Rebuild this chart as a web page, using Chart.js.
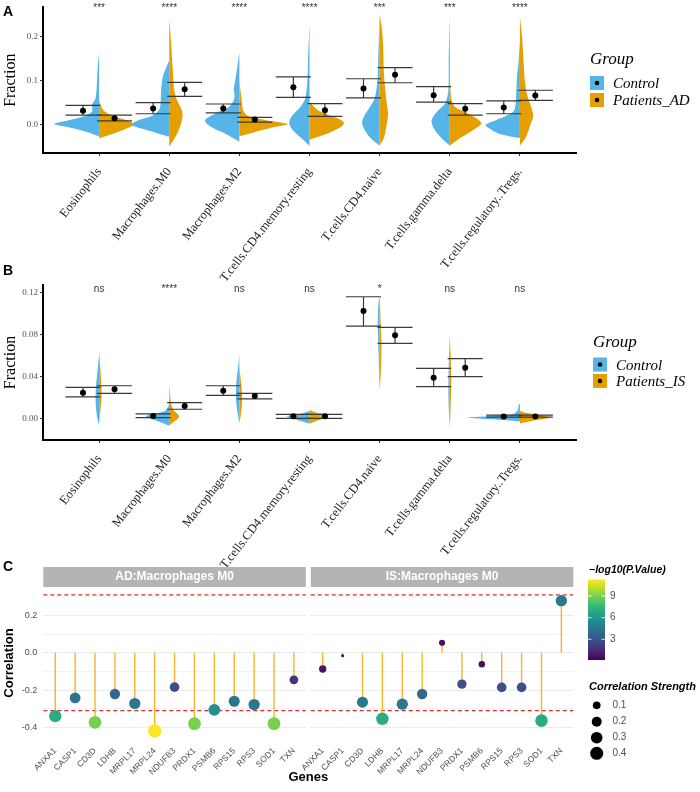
<!DOCTYPE html>
<html>
<head>
<meta charset="utf-8">
<script src="https://cdn.jsdelivr.net/npm/chart.js@4.4.1/dist/chart.umd.min.js"></script>
<style>
  body { margin: 0; background: #fff; }
  #page { position: relative; width: 700px; height: 792px; overflow: hidden; }
  canvas { position: absolute; left: 0; }
  .tag { position: absolute; left: 3px; font: bold 14px 'Liberation Sans', Arial, sans-serif; color: #000; }
</style>
</head>
<body>
<div id="page">
  <canvas id="chartA" width="700" height="300" style="top:0"></canvas>
  <canvas id="chartB" width="700" height="330" style="top:260px"></canvas>
  <canvas id="chartC" width="700" height="237" style="top:555px"></canvas>
  <div class="tag" style="top:3px">A</div>
  <div class="tag" style="top:262px">B</div>
  <div class="tag" style="top:558px">C</div>
</div>
<script>
// ---------- Panels A and B: cell fractions ----------
const cellTypes = ['Eosinophils', 'Macrophages.M0', 'Macrophages.M2', 'T.cells.CD4.memory.resting',
  'T.cells.CD4.naive', 'T.cells.gamma.delta', 'T.cells.regulatory..Tregs.'];
const sigAD = ['***', '****', '****', '****', '***', '***', '****'];
const sigIS = ['ns', '****', 'ns', 'ns', '*', 'ns', 'ns'];

// mean +/- error limits (panel A, Control vs Patients_AD)
const adCtrlMean = [0.032, 0.037, 0.037, 0.085, 0.082, 0.067, 0.039];
const adCtrlLow  = [0.022, 0.025, 0.027, 0.062, 0.061, 0.051, 0.025];
const adCtrlHigh = [0.044, 0.050, 0.047, 0.108, 0.104, 0.086, 0.054];
const adCaseMean = [0.015, 0.080, 0.012, 0.033, 0.113, 0.036, 0.066];
const adCaseLow  = [0.009, 0.064, 0.006, 0.019, 0.095, 0.022, 0.055];
const adCaseHigh = [0.022, 0.096, 0.017, 0.048, 0.129, 0.048, 0.078];

// panel B, Control vs Patients_IS
const isCtrlMean = [0.0244, 0.0022, 0.0263, 0.0019, 0.1022, 0.0387, 0.0016];
const isCtrlLow  = [0.0203, 0.0006, 0.0219, 0.0000, 0.0879, 0.0301, 0.0011];
const isCtrlHigh = [0.0295, 0.0041, 0.0310, 0.0038, 0.1158, 0.0476, 0.0030];
const isCaseMean = [0.0276, 0.0117, 0.0212, 0.0019, 0.0790, 0.0482, 0.0016];
const isCaseLow  = [0.0238, 0.0086, 0.0184, 0.0000, 0.0714, 0.0396, 0.0011];
const isCaseHigh = [0.0310, 0.0149, 0.0238, 0.0038, 0.0867, 0.0568, 0.0030];

// half-violin density profiles: [fraction, half width]
const adCtrlViolin = [
  [[-0.026,0],[-0.015,0.2],[-0.005,0.45],[0.002,0.64],[0.01,0.45],[0.02,0.2],[0.03,0.1],[0.045,0.1],[0.06,0.05],[0.1,0.03],[0.13,0.02],[0.164,0]],
  [[-0.027,0],[-0.015,0.25],[0,0.54],[0.01,0.45],[0.02,0.25],[0.035,0.14],[0.06,0.12],[0.09,0.11],[0.115,0.08],[0.13,0.04],[0.145,0]],
  [[-0.038,0],[-0.02,0.2],[-0.005,0.4],[0.01,0.49],[0.025,0.35],[0.04,0.15],[0.06,0.07],[0.08,0.08],[0.1,0.06],[0.13,0.03],[0.163,0]],
  [[-0.047,0],[-0.03,0.12],[-0.01,0.25],[0.005,0.29],[0.02,0.25],[0.04,0.13],[0.06,0.06],[0.1,0.03],[0.15,0.02],[0.226,0]],
  [[-0.047,0],[-0.03,0.13],[-0.01,0.22],[0.005,0.25],[0.02,0.22],[0.04,0.14],[0.06,0.07],[0.1,0.03],[0.15,0.02],[0.246,0]],
  [[-0.047,0],[-0.03,0.12],[-0.01,0.22],[0.01,0.26],[0.03,0.18],[0.05,0.06],[0.08,0.02],[0.15,0.015],[0.25,0]],
  [[-0.03,0],[-0.02,0.3],[-0.008,0.44],[0,0.49],[0.01,0.35],[0.02,0.2],[0.03,0.09],[0.05,0.06],[0.08,0.05],[0.11,0.04],[0.14,0.02],[0.189,0]]
];
const adCaseViolin = [
  [[-0.03,0],[-0.02,0.2],[-0.008,0.4],[0.002,0.5],[0.01,0.4],[0.02,0.2],[0.03,0.08],[0.045,0.02],[0.058,0]],
  [[-0.049,0],[-0.03,0.08],[-0.01,0.14],[0.01,0.18],[0.025,0.19],[0.04,0.16],[0.06,0.1],[0.08,0.07],[0.1,0.06],[0.15,0.04],[0.2,0.02],[0.24,0]],
  [[-0.026,0],[-0.015,0.25],[-0.005,0.5],[0.002,0.69],[0.01,0.4],[0.018,0.15],[0.03,0.06],[0.06,0.03],[0.1,0]],
  [[-0.033,0],[-0.02,0.25],[-0.005,0.45],[0.005,0.49],[0.015,0.4],[0.03,0.15],[0.045,0.04],[0.052,0]],
  [[-0.047,0],[-0.03,0.06],[0,0.1],[0.025,0.12],[0.05,0.1],[0.08,0.08],[0.12,0.06],[0.18,0.05],[0.22,0.03],[0.25,0]],
  [[-0.047,0],[-0.03,0.15],[-0.01,0.35],[0.003,0.45],[0.015,0.38],[0.03,0.2],[0.045,0.05],[0.08,0.01],[0.2,0]],
  [[-0.047,0],[-0.03,0.08],[0,0.15],[0.02,0.19],[0.04,0.16],[0.07,0.1],[0.1,0.07],[0.15,0.05],[0.2,0.03],[0.244,0]]
];
const isCtrlViolin = [
  [[-0.007,0],[0,0.025],[0.01,0.045],[0.02,0.05],[0.03,0.045],[0.04,0.03],[0.05,0.015],[0.06,0]],
  [[-0.007,0],[-0.003,0.15],[0,0.28],[0.002,0.33],[0.004,0.22],[0.007,0.06],[0.012,0.01],[0.018,0]],
  [[-0.005,0],[0.003,0.02],[0.012,0.04],[0.022,0.05],[0.032,0.045],[0.042,0.03],[0.052,0.012],[0.06,0]],
  [[-0.005,0],[-0.002,0.15],[0.001,0.3],[0.002,0.32],[0.004,0.15],[0.007,0]],
  [[0.027,0],[0.04,0.008],[0.06,0.015],[0.08,0.025],[0.1,0.025],[0.11,0.015],[0.117,0]],
  [[-0.009,0],[0.01,0.015],[0.03,0.02],[0.05,0.015],[0.065,0.008],[0.079,0]],
  [[-0.003,0],[-0.001,0.4],[0.0006,0.74],[0.002,0.45],[0.004,0.1],[0.008,0.03],[0.012,0.02],[0.014,0]]
];
const isCaseViolin = [
  [[-0.005,0],[0.005,0.015],[0.015,0.03],[0.025,0.035],[0.035,0.03],[0.045,0.02],[0.055,0.01],[0.065,0]],
  [[-0.007,0],[-0.003,0.07],[0.001,0.14],[0.004,0.12],[0.008,0.06],[0.013,0.03],[0.02,0.015],[0.033,0]],
  [[-0.005,0],[0.003,0.02],[0.012,0.035],[0.02,0.04],[0.03,0.03],[0.04,0.015],[0.048,0]],
  [[-0.005,0],[-0.002,0.12],[0.001,0.25],[0.003,0.27],[0.005,0.12],[0.008,0]],
  [[0.027,0],[0.04,0.015],[0.06,0.025],[0.075,0.025],[0.09,0.015],[0.105,0.008],[0.117,0]],
  [[-0.009,0],[0.01,0.012],[0.03,0.02],[0.05,0.018],[0.065,0.01],[0.079,0]],
  [[-0.005,0],[-0.002,0.2],[0.0005,0.43],[0.003,0.3],[0.005,0.1],[0.007,0]]
];

// ---------- Panel C: gene correlations ----------
const genes = ['ANXA1', 'CASP1', 'CD3D', 'LDHB', 'MRPL17', 'MRPL24', 'NDUFB3', 'PRDX1', 'PSMB6', 'RPS15', 'RPS3', 'SOD1', 'TXN'];
const facetLabels = ['AD:Macrophages M0', 'IS:Macrophages M0'];
const adCorr = [-0.340, -0.242, -0.373, -0.221, -0.272, -0.419, -0.184, -0.380, -0.306, -0.260, -0.278, -0.380, -0.145];
const adLogP = [7.0, 4.4, 9.0, 3.8, 4.6, 11.3, 2.9, 9.0, 5.7, 4.5, 4.5, 9.0, 1.8];
const isCorr = [-0.087, -0.016, -0.265, -0.354, -0.276, -0.221, 0.053, -0.168, -0.062, -0.186, -0.186, -0.364, 0.279];
const isLogP = [0.7, 0.13, 4.6, 7.0, 4.6, 3.8, 0.7, 2.9, 0.6, 2.9, 2.9, 7.0, 4.6];
const corrCutoff = 0.31;
const colorbarTicks = [3, 6, 9];
const sizeLegendValues = [0.1, 0.2, 0.3, 0.4];

const BLUE = '#56B4E9', ORANGE = '#E69F00';
const SERIF = "'Liberation Serif', 'Times New Roman', serif";
const SANS = "'Liberation Sans', Arial, sans-serif";
Chart.defaults.font.family = SANS;

// build one half violin as a closed shape
function halfViolin(pts, center, side, color) {
  return {
    data: pts.map(([y, w]) => ({ x: center + side * w, y })),
    backgroundColor: color, borderColor: color, borderWidth: 0,
    fill: 'shape', tension: 0.3, pointRadius: 0, order: 3
  };
}

function errorBars(lows, highs, offset) {
  const d = [];
  lows.forEach((lo, i) => {
    const c = i + 1 + offset, hi = highs[i];
    d.push({ x: c - 0.25, y: hi }, { x: c + 0.25, y: hi }, { x: c, y: null },
           { x: c - 0.25, y: lo }, { x: c + 0.25, y: lo }, { x: c, y: null },
           { x: c, y: hi }, { x: c, y: lo }, { x: c, y: null });
  });
  return { data: d, borderColor: '#3a3a3a', borderWidth: 1.2, pointRadius: 0, fill: false, order: 1 };
}

function meanPoints(means, offset) {
  return {
    data: means.map((m, i) => ({ x: i + 1 + offset, y: m })),
    showLine: false, pointRadius: 3, pointBackgroundColor: '#000', pointBorderWidth: 0, order: 0
  };
}

// significance labels + group legend
const panelDecor = {
  id: 'panelDecor',
  afterDraw(chart, args, opts) {
    const { ctx, chartArea, scales } = chart;
    ctx.save();
    ctx.font = '10px ' + SANS;
    ctx.fillStyle = '#333';
    ctx.textAlign = 'center';
    ctx.textBaseline = 'alphabetic';
    opts.sig.forEach((s, i) => ctx.fillText(s, scales.x.getPixelForValue(i + 1), chartArea.top + opts.sigOffset));

    const lg = opts.legend;
    ctx.textAlign = 'left';
    ctx.fillStyle = '#000';
    ctx.font = 'italic 17px ' + SERIF;
    ctx.fillText('Group', lg.x, lg.titleBase);
    ctx.font = 'italic 15px ' + SERIF;
    lg.rows.forEach(r => {
      ctx.fillStyle = r.color;
      ctx.fillRect(lg.x, r.top, 14, 14);
      ctx.fillStyle = '#000';
      ctx.beginPath();
      ctx.arc(lg.x + 7, r.top + 7, 2.3, 0, Math.PI * 2);
      ctx.fill();
      ctx.fillText(r.label, lg.x + 23, r.top + 12);
    });
    ctx.restore();
  }
};

function violinPanel(id, cfg) {
  const datasets = [
    meanPoints(cfg.ctrlMean, -0.23), meanPoints(cfg.caseMean, 0.22),
    errorBars(cfg.ctrlLow, cfg.ctrlHigh, -0.23), errorBars(cfg.caseLow, cfg.caseHigh, 0.22)
  ];
  cfg.ctrlViolin.forEach((p, i) => datasets.push(halfViolin(p, i + 1, -1, BLUE)));
  cfg.caseViolin.forEach((p, i) => datasets.push(halfViolin(p, i + 1, 1, ORANGE)));

  return new Chart(document.getElementById(id), {
    type: 'line',
    data: { datasets },
    plugins: [panelDecor],
    options: {
      responsive: false, animation: false, events: [],
      layout: { padding: { top: cfg.padTop, right: 124, left: 0, bottom: 0 } },
      plugins: {
        legend: { display: false }, tooltip: { enabled: false },
        panelDecor: { sig: cfg.sig, sigOffset: cfg.sigOffset, legend: cfg.legend }
      },
      scales: {
        x: {
          type: 'linear', min: 0.2, max: 7.8,
          afterBuildTicks: s => { s.ticks = cellTypes.map((_, i) => ({ value: i + 1 })); },
          afterFit: s => { s.height = cfg.xHeight; },
          ticks: {
            autoSkip: false, minRotation: 52, maxRotation: 52, padding: 9,
            color: '#1a1a1a', font: { family: SERIF, size: 12.5 },
            callback: (v, i) => cellTypes[i]
          },
          grid: { drawOnChartArea: false, drawTicks: true, tickLength: 3, color: '#333' },
          border: { display: true, color: '#000', width: 2 }
        },
        y: {
          min: cfg.yMin, max: cfg.yMax,
          afterBuildTicks: s => { s.ticks = cfg.yTicks.map(v => ({ value: v })); },
          afterFit: s => { s.width = 43; },
          ticks: {
            padding: 2, color: '#555', font: { family: SERIF, size: 9 },
            callback: v => v.toFixed(cfg.yDigits)
          },
          grid: { drawOnChartArea: false, drawTicks: true, tickLength: 3, color: '#333' },
          border: { display: true, color: '#000', width: 2 },
          title: { display: true, text: 'Fraction', color: '#000', font: { family: SERIF, size: 16 }, padding: { top: 1 } }
        }
      }
    }
  });
}

violinPanel('chartA', {
  ctrlMean: adCtrlMean, ctrlLow: adCtrlLow, ctrlHigh: adCtrlHigh,
  caseMean: adCaseMean, caseLow: adCaseLow, caseHigh: adCaseHigh,
  ctrlViolin: adCtrlViolin, caseViolin: adCaseViolin, sig: sigAD, sigOffset: 4,
  yMin: -0.0636, yMax: 0.265, yTicks: [0, 0.1, 0.2], yDigits: 1,
  padTop: 3, xHeight: 147,
  legend: { x: 590, titleBase: 64, rows: [
    { label: 'Control', color: BLUE, top: 76 },
    { label: 'Patients_AD', color: ORANGE, top: 93 }
  ] }
});

violinPanel('chartB', {
  ctrlMean: isCtrlMean, ctrlLow: isCtrlLow, ctrlHigh: isCtrlHigh,
  caseMean: isCaseMean, caseLow: isCaseLow, caseHigh: isCaseHigh,
  ctrlViolin: isCtrlViolin, caseViolin: isCaseViolin, sig: sigIS, sigOffset: 7,
  yMin: -0.0207, yMax: 0.127, yTicks: [0, 0.04, 0.08, 0.12], yDigits: 2,
  padTop: 25, xHeight: 150,
  legend: { x: 593, titleBase: 86.5, rows: [
    { label: 'Control', color: BLUE, top: 97.5 },
    { label: 'Patients_IS', color: ORANGE, top: 114 }
  ] }
});

// ---------- Panel C ----------
const viridis = ['#440154', '#482878', '#3e4989', '#31688e', '#26828e', '#1f9e89', '#35b779', '#6ece58', '#b5de2b', '#fde725'];
const allLogP = adLogP.concat(isLogP);
const pMin = Math.min(...allLogP), pMax = Math.max(...allLogP);
const allAbs = adCorr.concat(isCorr).map(Math.abs);
const rMin = Math.min(...allAbs), rMax = Math.max(...allAbs);
const hex2rgb = h => [1, 3, 5].map(k => parseInt(h.slice(k, k + 2), 16));

function viridisAt(t) {
  t = Math.max(0, Math.min(1, t));
  const p = t * (viridis.length - 1);
  const i = Math.min(Math.floor(p), viridis.length - 2), f = p - i;
  const a = hex2rgb(viridis[i]), b = hex2rgb(viridis[i + 1]);
  return 'rgb(' + a.map((c, k) => Math.round(c + (b[k] - c) * f)).join(',') + ')';
}
const pColor = v => viridisAt((v - pMin) / (pMax - pMin));
const dotRadius = r => (3 + 10.3 * Math.sqrt(Math.max(0, Math.abs(r) - rMin) / (rMax - rMin))) / 2;

const FACET_SHIFT = 13.45;          // second facet starts after a small gap
const X_MIN = 0.4, X_MAX = 27.05, GAP = [13.6, 13.85];

function stems(corr, shift) {
  const d = [];
  corr.forEach((r, i) => d.push({ x: i + 1 + shift, y: 0 }, { x: i + 1 + shift, y: r }, { x: i + 1 + shift, y: null }));
  return { data: d, borderColor: '#F7B32B', borderWidth: 1.4, pointRadius: 0, order: 1 };
}
function dots(corr, logp, shift) {
  return {
    data: corr.map((r, i) => ({ x: i + 1 + shift, y: r })),
    showLine: false, pointRadius: corr.map(dotRadius), pointBorderWidth: 0,
    pointBackgroundColor: logp.map(pColor), order: 0
  };
}
function cutoffLine(v) {
  return {
    data: [{ x: X_MIN, y: v }, { x: GAP[0], y: v }, { x: 13.7, y: null }, { x: GAP[1], y: v }, { x: X_MAX, y: v }],
    borderColor: '#D0312D', borderWidth: 1.2, borderDash: [4, 3], pointRadius: 0, order: 2
  };
}

const facetDecor = {
  id: 'facetDecor',
  beforeDatasetsDraw(chart) {
    const { ctx, chartArea, scales } = chart;
    const x0 = scales.x.getPixelForValue(GAP[0]), x1 = scales.x.getPixelForValue(GAP[1]);
    ctx.save();
    ctx.fillStyle = '#fff';
    ctx.fillRect(x0, chartArea.top - 1, x1 - x0, chartArea.bottom - chartArea.top + 2);
    ctx.restore();
  },
  afterDraw(chart) {
    const { ctx, chartArea, scales } = chart;
    const xs = scales.x;
    ctx.save();
    // strips
    const ranges = [[X_MIN, GAP[0]], [GAP[1], X_MAX]];
    ctx.font = 'bold 12px ' + SANS;
    ctx.textAlign = 'center';
    ctx.textBaseline = 'middle';
    ranges.forEach(([a, b], k) => {
      const l = xs.getPixelForValue(a), r = xs.getPixelForValue(b);
      ctx.fillStyle = '#B4B4B4';
      ctx.fillRect(l, chartArea.top - 21, r - l, 20);
      ctx.fillStyle = '#fff';
      ctx.fillText(facetLabels[k], (l + r) / 2, chartArea.top - 11);
    });

    // colour bar legend
    const cbX = 588, cbTop = 24.5, cbBot = 105, cbW = 17;
    ctx.textAlign = 'left';
    ctx.fillStyle = '#000';
    ctx.font = 'bold italic 10.5px ' + SANS;
    ctx.fillText('\u2212log10(P.Value)', 589, 15);
    const grad = ctx.createLinearGradient(0, cbBot, 0, cbTop);
    viridis.forEach((c, i) => grad.addColorStop(i / (viridis.length - 1), c));
    ctx.fillStyle = grad;
    ctx.fillRect(cbX, cbTop, cbW, cbBot - cbTop);
    ctx.font = '10px ' + SANS;
    colorbarTicks.forEach(v => {
      const y = cbBot - (v - pMin) / (pMax - pMin) * (cbBot - cbTop);
      ctx.strokeStyle = 'rgba(255,255,255,0.8)';
      ctx.lineWidth = 1;
      ctx.beginPath();
      ctx.moveTo(cbX, y); ctx.lineTo(cbX + 3.5, y);
      ctx.moveTo(cbX + cbW - 3.5, y); ctx.lineTo(cbX + cbW, y);
      ctx.stroke();
      ctx.fillStyle = '#4d4d4d';
      ctx.fillText(String(v), 610, y);
    });

    // size legend
    ctx.fillStyle = '#000';
    ctx.font = 'bold italic 11px ' + SANS;
    ctx.fillText('Correlation Strength', 589, 131.5);
    const rowsY = [150.3, 166.7, 182.7, 198.3];
    ctx.font = '10px ' + SANS;
    sizeLegendValues.forEach((v, i) => {
      ctx.fillStyle = '#000';
      ctx.beginPath();
      ctx.arc(596.7, rowsY[i], dotRadius(v), 0, Math.PI * 2);
      ctx.fill();
      ctx.fillStyle = '#4d4d4d';
      ctx.fillText(v.toFixed(1), 612.5, rowsY[i]);
    });
    ctx.restore();
  }
};

const geneTicks = genes.map((_, i) => i + 1).concat(genes.map((_, i) => i + 1 + FACET_SHIFT));
const geneLabels = genes.concat(genes);

new Chart(document.getElementById('chartC'), {
  type: 'line',
  data: {
    datasets: [
      dots(adCorr, adLogP, 0), dots(isCorr, isLogP, FACET_SHIFT),
      stems(adCorr, 0), stems(isCorr, FACET_SHIFT),
      cutoffLine(corrCutoff), cutoffLine(-corrCutoff)
    ]
  },
  plugins: [facetDecor],
  options: {
    responsive: false, animation: false, events: [],
    layout: { padding: { top: 33, right: 126.7, left: 0, bottom: 0 } },
    plugins: { legend: { display: false }, tooltip: { enabled: false } },
    scales: {
      x: {
        type: 'linear', min: X_MIN, max: X_MAX,
        afterBuildTicks: s => { s.ticks = geneTicks.map(v => ({ value: v })); },
        afterFit: s => { s.height = 54; },
        ticks: {
          autoSkip: false, minRotation: 45, maxRotation: 45, padding: 0,
          color: '#4d4d4d', font: { size: 8.5 },
          callback: (v, i) => geneLabels[i]
        },
        grid: { display: false },
        border: { display: false },
        title: { display: true, text: 'Genes', color: '#000', font: { size: 13, weight: 'bold' }, padding: { top: 0, bottom: 7 } }
      },
      y: {
        min: -0.457, max: 0.347,
        afterBuildTicks: s => { s.ticks = [-0.4, -0.3, -0.2, -0.1, 0, 0.1, 0.2, 0.3].map(v => ({ value: v })); },
        afterFit: s => { s.width = 43.3; },
        ticks: {
          padding: 6, color: '#4d4d4d', font: { size: 9 },
          callback: v => (Math.abs(Math.round(v * 10)) % 2 === 0 ? v.toFixed(1) : '')
        },
        grid: {
          drawTicks: false, color: '#EBEBEB',
          lineWidth: c => (Math.abs(Math.round(c.tick.value * 10)) % 2 === 0 ? 1 : 0.6)
        },
        border: { display: false },
        title: { display: true, text: 'Correlation', color: '#000', font: { size: 13, weight: 'bold' }, padding: { top: 2 } }
      }
    }
  }
});
</script>
</body>
</html>
